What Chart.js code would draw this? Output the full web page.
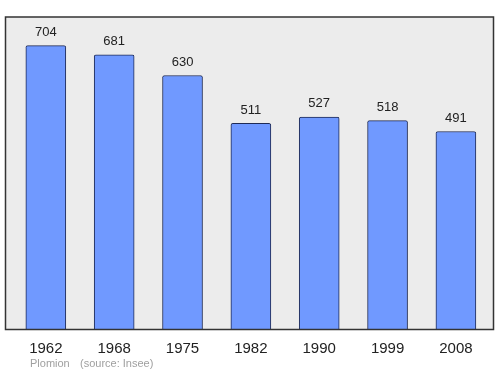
<!DOCTYPE html>
<html>
<head>
<meta charset="utf-8">
<script src="https://cdn.jsdelivr.net/npm/chart.js@4/dist/chart.umd.min.js"></script>
<style>
  html, body { margin: 0; padding: 0; background: #fff; }
  #wrap { width: 500px; height: 374px; }
</style>
</head>
<body>
<div id="wrap"><canvas id="myChart" width="500" height="374"></canvas></div>
<script>
const years = ["1962", "1968", "1975", "1982", "1990", "1999", "2008"];
const population = [704, 681, 630, 511, 527, 518, 491];
const townName = "Plomion";
const sourceText = "(source: Insee)";

const fontFamily = "'Liberation Sans', Arial, sans-serif";

// grey plot box with border
const plotBox = {
    id: "plotBox",
    beforeDraw(chart) {
        const { ctx, chartArea: a } = chart;
        ctx.save();
        ctx.fillStyle = "#ececec";
        ctx.fillRect(a.left, a.top, a.right - a.left, a.bottom - a.top);
        ctx.restore();
    },
    afterDraw(chart) {
        const { ctx, chartArea: a } = chart;
        ctx.save();
        ctx.strokeStyle = "#333";
        ctx.lineWidth = 1.5;
        ctx.strokeRect(a.left, a.top, a.right - a.left, a.bottom - a.top);
        // footer
        ctx.font = "11px " + fontFamily;
        ctx.fillStyle = "#a0a0a0";
        ctx.textBaseline = "middle";
        ctx.fillText(townName, 30, 364);
        ctx.fillText(sourceText, 80, 364);
        ctx.restore();
    }
};

// value labels above bars
const valueLabels = {
    id: "valueLabels",
    afterDatasetsDraw(chart) {
        const { ctx } = chart;
        const meta = chart.getDatasetMeta(0);
        ctx.save();
        ctx.font = "13px " + fontFamily;
        ctx.fillStyle = "#222";
        ctx.textAlign = "center";
        ctx.textBaseline = "middle";
        meta.data.forEach((bar, i) => {
            ctx.fillText(population[i], bar.x, bar.y - 13.5);
        });
        ctx.restore();
    }
};

new Chart(document.getElementById("myChart"), {
    type: "bar",
    data: {
        datasets: [{
            data: population.map((v, i) => ({ x: i, y: v })),
            backgroundColor: "#7099ff",
            borderColor: "#1e2a55",
            borderWidth: 1,
            borderSkipped: "bottom",
            borderRadius: 2,
            barThickness: 40
        }]
    },
    options: {
        responsive: false,
        animation: false,
        layout: { padding: { left: 5.5, right: 6.5, top: 17, bottom: 14.5 } },
        plugins: {
            legend: { display: false },
            tooltip: { enabled: false }
        },
        scales: {
            x: {
                type: "linear",
                min: -0.59,
                max: 6.55,
                offset: false,
                grid: { display: false },
                border: { display: false },
                afterBuildTicks(scale) {
                    scale.ticks = years.map((y, i) => ({ value: i }));
                },
                ticks: {
                    padding: 2,
                    color: "#222",
                    font: { size: 15, family: fontFamily },
                    callback: (v) => years[v]
                }
            },
            y: {
                display: false,
                min: 0,
                max: 775
            }
        }
    },
    plugins: [plotBox, valueLabels]
});
</script>
</body>
</html>
